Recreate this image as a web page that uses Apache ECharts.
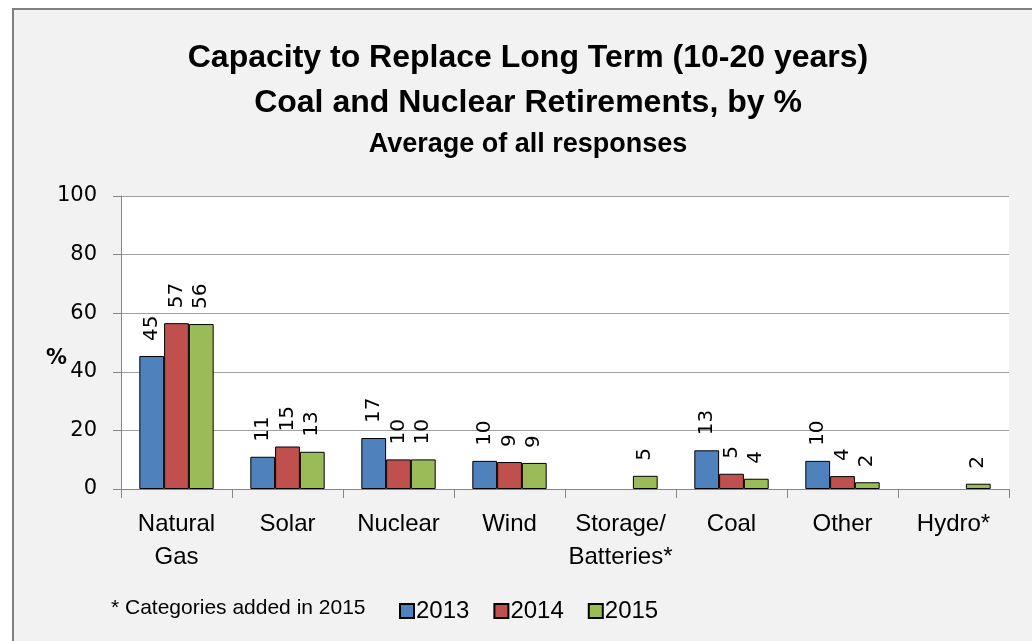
<!DOCTYPE html>
<html>
<head>
<meta charset="utf-8">
<script src="https://cdn.jsdelivr.net/npm/echarts@6/dist/echarts.min.js"></script>
<style>
  html, body { margin: 0; padding: 0; background: #ffffff; overflow: hidden; width: 1032px; height: 641px; }
  #frame { position: absolute; left: 12px; top: 8px; width: 1030px; height: 640px;
           background: #f2f2f2; border-left: 2px solid #808080; border-top: 2px solid #808080; }
  #chart { position: absolute; left: 0; top: 0; width: 1032px; height: 641px; }
</style>
</head>
<body>
<div id="frame"></div>
<div id="chart"></div>
<script>
const categories = ['Natural\nGas', 'Solar', 'Nuclear', 'Wind', 'Storage/\nBatteries*', 'Coal', 'Other', 'Hydro*'];
const seriesNames = ['2013', '2014', '2015'];
const values2013 = [45.4, 11.0, 17.4, 9.6, null, 13.2, 9.6, null];
const values2014 = [56.6, 14.5, 10.1, 9.2, null, 5.2, 4.4, null];
const values2015 = [56.3, 12.7, 10.1, 8.9, 4.5, 3.5, 2.3, 1.8];
const yTicks = [0, 20, 40, 60, 80, 100];
const colors = ['#4F81BD', '#C0504D', '#9BBB59'];

const chart = echarts.init(document.getElementById('chart'), null, { renderer: 'canvas' });

const allValues = [values2013, values2014, values2015];
const series = seriesNames.map((name, i) => ({
  name: name,
  type: 'bar',
  data: allValues[i],
  barGap: '0%',
  barCategoryGap: '33%',
  itemStyle: { color: colors[i], borderColor: '#000000', borderWidth: 1 },
  label: {
    show: true,
    position: 'top',
    rotate: 90,
    align: 'left',
    verticalAlign: 'middle',
    distance: 15,
    fontFamily: 'DejaVu Sans',
    fontSize: 20,
    color: '#000000',
    formatter: p => (p.value == null ? '' : String(Math.round(p.value)))
  }
}));

const titleFont = 'Liberation Sans';
chart.setOption({
  backgroundColor: 'transparent',
  animation: false,
  title: [
    { text: 'Capacity to Replace Long Term (10-20 years)', left: 523, textAlign: 'center', top: 37,
      textStyle: { fontFamily: titleFont, fontWeight: 'bold', fontSize: 32, color: '#000' } },
    { text: 'Coal and Nuclear Retirements, by %', left: 523, textAlign: 'center', top: 82,
      textStyle: { fontFamily: titleFont, fontWeight: 'bold', fontSize: 32, color: '#000' } },
    { text: 'Average of all responses', left: 523, textAlign: 'center', top: 126,
      textStyle: { fontFamily: titleFont, fontWeight: 'bold', fontSize: 27, color: '#000' } },
    { text: '* Categories added in 2015', left: 106, top: 593,
      textStyle: { fontFamily: titleFont, fontWeight: 'normal', fontSize: 21, color: '#000' } }
  ],
  graphic: [
    { type: 'text', left: 46, top: 348, z: 10,
      style: { text: '%', fontFamily: 'DejaVu Sans', fontWeight: 'bold', fontSize: 21, fill: '#000' } }
  ],
  legend: {
    data: seriesNames,
    left: 394,
    top: 594,
    icon: 'rect',
    itemWidth: 14,
    itemHeight: 14,
    itemGap: 24,
    textStyle: { fontFamily: titleFont, fontSize: 24, color: '#000', padding: [0, 0, 0, -3] }
  },
  grid: {
    left: 121, right: 23, top: 196, bottom: 152,
    show: true, backgroundColor: '#ffffff', borderWidth: 0
  },
  xAxis: {
    type: 'category',
    data: categories,
    axisLine: { lineStyle: { color: '#868686', width: 1 } },
    axisTick: { show: true, length: 9, alignWithLabel: false, lineStyle: { color: '#868686' } },
    axisLabel: {
      interval: 0, margin: 19, fontFamily: titleFont, fontSize: 24, lineHeight: 33, color: '#000'
    }
  },
  yAxis: {
    type: 'value',
    min: 0, max: 100, interval: 20,
    axisLine: { show: true, lineStyle: { color: '#868686', width: 1 } },
    axisTick: { show: true, length: 8, lineStyle: { color: '#868686' } },
    axisLabel: {
      margin: 24, fontFamily: 'DejaVu Sans', fontSize: 21, color: '#000',
      formatter: v => (yTicks.indexOf(v) >= 0 ? String(v) : '')
    },
    splitLine: { show: true, lineStyle: { color: '#a0a0a0', width: 1 } }
  },
  series: series
});
</script>
</body>
</html>
